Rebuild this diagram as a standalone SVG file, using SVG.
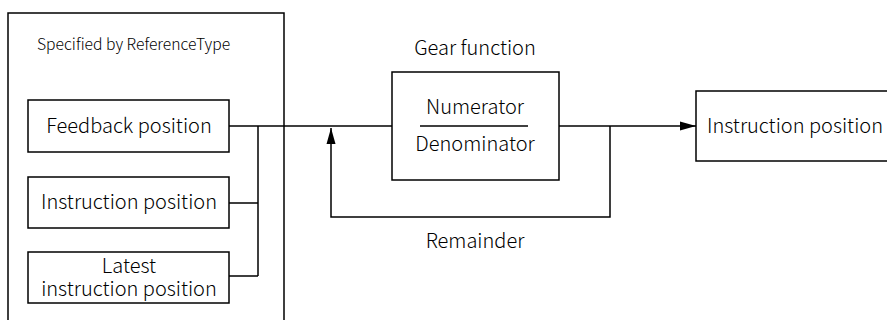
<svg xmlns="http://www.w3.org/2000/svg" width="887" height="320" viewBox="0 0 887 320">
<defs>
<style>
.b{fill:#fff;stroke:#000;stroke-width:1.5}
.l{fill:none;stroke:#000;stroke-width:1.5}
text{font-family:"Noto Sans CJK SC","Noto Sans",sans-serif;font-size:20px;font-weight:300;fill:#000;text-anchor:middle}
.s{font-size:15.7px;text-anchor:start}
</style>
<marker id="a" viewBox="0 0 16 10" refX="16" refY="5" markerWidth="16" markerHeight="10" markerUnits="userSpaceOnUse" orient="auto"><path d="M0,0.5L16,5L0,9.5z" fill="#000"/></marker>
</defs>
<g id="group">
<path class="l" d="M8,330V13H284V330"/>
<text class="s" x="37" y="50">Specified by ReferenceType</text>
</g>
<g id="feedback"><rect class="b" x="28" y="100" width="201" height="52"/><text x="129" y="132.5">Feedback position</text></g>
<g id="instruction"><rect class="b" x="28" y="177" width="201" height="51"/><text x="129" y="209">Instruction position</text></g>
<g id="latest"><rect class="b" x="28" y="252" width="201" height="51"/><text x="129" y="272.5">Latest<tspan x="129" dy="23">instruction position</tspan></text></g>
<g id="gear"><text x="475" y="55">Gear function</text><rect class="b" x="392" y="72" width="167" height="108"/><text x="475" y="113.5">Numerator</text><path class="l" d="M420,126H528"/><text x="475" y="151">Denominator</text></g>
<g id="remainder"><text x="475" y="248">Remainder</text></g>
<g id="output"><rect class="b" x="696" y="91" width="210" height="70"/><text x="795" y="132.5">Instruction position</text></g>
<g id="connectors">
<path class="l" d="M229,126H392"/>
<path class="l" d="M229,203H258M229,276H258M258,126V276"/>
<path class="l" d="M559,126H696" marker-end="url(#a)"/>
<path class="l" d="M610,126V217H331V128" marker-end="url(#a)"/>
</g>
</svg>
